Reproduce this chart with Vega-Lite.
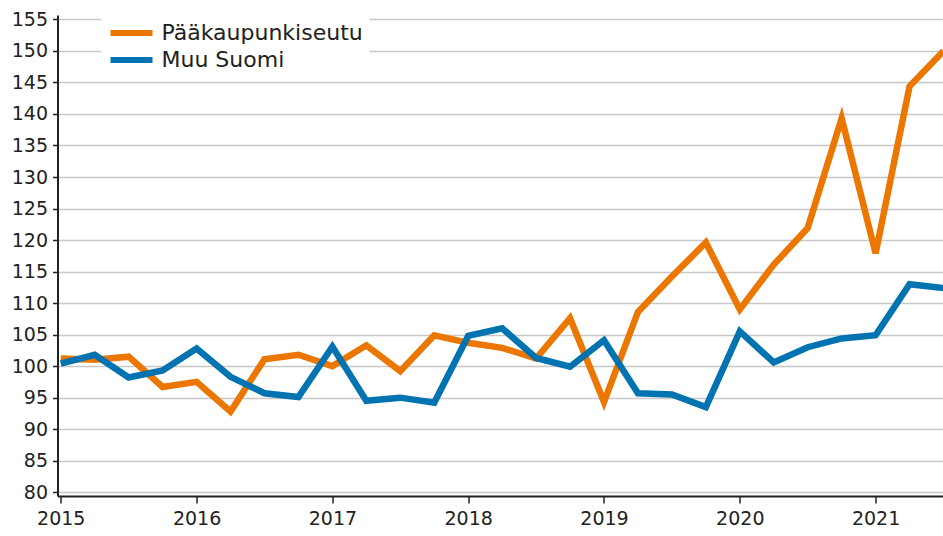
{
  "$schema": "https://vega.github.io/schema/vega-lite/v6.json",
  "autosize": {"type": "none"},
  "width": 886,
  "height": 481,
  "padding": {"left": 57.5, "top": 15, "right": 0, "bottom": 40},
  "background": "white",
  "config": {
    "font": "DejaVu Sans",
    "view": {"stroke": null},
    "axis": {"labelColor": "#222", "domainColor": "#222", "tickColor": "#222", "domainWidth": 2, "tickWidth": 1.5}
  },
  "data": {
    "values": [
      {"t": 2015.00, "series": "Pääkaupunkiseutu", "value": 101.2},
      {"t": 2015.25, "series": "Pääkaupunkiseutu", "value": 101.0},
      {"t": 2015.50, "series": "Pääkaupunkiseutu", "value": 101.5},
      {"t": 2015.75, "series": "Pääkaupunkiseutu", "value": 96.7},
      {"t": 2016.00, "series": "Pääkaupunkiseutu", "value": 97.5},
      {"t": 2016.25, "series": "Pääkaupunkiseutu", "value": 92.8},
      {"t": 2016.50, "series": "Pääkaupunkiseutu", "value": 101.1},
      {"t": 2016.75, "series": "Pääkaupunkiseutu", "value": 101.8},
      {"t": 2017.00, "series": "Pääkaupunkiseutu", "value": 100.0},
      {"t": 2017.25, "series": "Pääkaupunkiseutu", "value": 103.3},
      {"t": 2017.50, "series": "Pääkaupunkiseutu", "value": 99.2},
      {"t": 2017.75, "series": "Pääkaupunkiseutu", "value": 104.9},
      {"t": 2018.00, "series": "Pääkaupunkiseutu", "value": 103.7},
      {"t": 2018.25, "series": "Pääkaupunkiseutu", "value": 102.9},
      {"t": 2018.50, "series": "Pääkaupunkiseutu", "value": 101.2},
      {"t": 2018.75, "series": "Pääkaupunkiseutu", "value": 107.6},
      {"t": 2019.00, "series": "Pääkaupunkiseutu", "value": 94.3},
      {"t": 2019.25, "series": "Pääkaupunkiseutu", "value": 108.6},
      {"t": 2019.50, "series": "Pääkaupunkiseutu", "value": 114.2},
      {"t": 2019.75, "series": "Pääkaupunkiseutu", "value": 119.6},
      {"t": 2020.00, "series": "Pääkaupunkiseutu", "value": 109.0},
      {"t": 2020.25, "series": "Pääkaupunkiseutu", "value": 116.1},
      {"t": 2020.50, "series": "Pääkaupunkiseutu", "value": 121.9},
      {"t": 2020.75, "series": "Pääkaupunkiseutu", "value": 139.3},
      {"t": 2021.00, "series": "Pääkaupunkiseutu", "value": 117.9},
      {"t": 2021.25, "series": "Pääkaupunkiseutu", "value": 144.4},
      {"t": 2021.50, "series": "Pääkaupunkiseutu", "value": 150.0},
      {"t": 2015.00, "series": "Muu Suomi", "value": 100.4},
      {"t": 2015.25, "series": "Muu Suomi", "value": 101.8},
      {"t": 2015.50, "series": "Muu Suomi", "value": 98.2},
      {"t": 2015.75, "series": "Muu Suomi", "value": 99.3},
      {"t": 2016.00, "series": "Muu Suomi", "value": 102.8},
      {"t": 2016.25, "series": "Muu Suomi", "value": 98.3},
      {"t": 2016.50, "series": "Muu Suomi", "value": 95.7},
      {"t": 2016.75, "series": "Muu Suomi", "value": 95.1},
      {"t": 2017.00, "series": "Muu Suomi", "value": 103.1},
      {"t": 2017.25, "series": "Muu Suomi", "value": 94.5},
      {"t": 2017.50, "series": "Muu Suomi", "value": 95.0},
      {"t": 2017.75, "series": "Muu Suomi", "value": 94.2},
      {"t": 2018.00, "series": "Muu Suomi", "value": 104.8},
      {"t": 2018.25, "series": "Muu Suomi", "value": 106.0},
      {"t": 2018.50, "series": "Muu Suomi", "value": 101.3},
      {"t": 2018.75, "series": "Muu Suomi", "value": 99.9},
      {"t": 2019.00, "series": "Muu Suomi", "value": 104.1},
      {"t": 2019.25, "series": "Muu Suomi", "value": 95.7},
      {"t": 2019.50, "series": "Muu Suomi", "value": 95.5},
      {"t": 2019.75, "series": "Muu Suomi", "value": 93.5},
      {"t": 2020.00, "series": "Muu Suomi", "value": 105.5},
      {"t": 2020.25, "series": "Muu Suomi", "value": 100.6},
      {"t": 2020.50, "series": "Muu Suomi", "value": 103.0},
      {"t": 2020.75, "series": "Muu Suomi", "value": 104.4},
      {"t": 2021.00, "series": "Muu Suomi", "value": 104.9},
      {"t": 2021.25, "series": "Muu Suomi", "value": 113.0},
      {"t": 2021.50, "series": "Muu Suomi", "value": 112.4}
    ]
  },
  "mark": {"type": "line", "strokeWidth": 6.5, "strokeJoin": "miter", "clip": false},
  "encoding": {
    "x": {
      "field": "t", "type": "quantitative",
      "scale": {"domain": [2014.976, 2021.5], "nice": false, "zero": false},
      "axis": {
        "title": null, "grid": false, "format": "d",
        "values": [2015, 2015.25, 2015.5, 2015.75, 2016, 2016.25, 2016.5, 2016.75, 2017, 2017.25, 2017.5, 2017.75, 2018, 2018.25, 2018.5, 2018.75, 2019, 2019.25, 2019.5, 2019.75, 2020, 2020.25, 2020.5, 2020.75, 2021, 2021.25, 2021.5],
        "labelExpr": "datum.value % 1 == 0 ? datum.label : ''",
        "labelOverlap": false, "labelFlush": false,
        "labelFontSize": 19, "tickSize": 7, "labelPadding": 6
      }
    },
    "y": {
      "field": "value", "type": "quantitative",
      "scale": {"domain": [79.4, 155.7], "nice": false, "zero": false},
      "axis": {
        "title": null, "grid": true, "gridColor": "#c8c8c8", "gridWidth": 1.5,
        "values": [80, 85, 90, 95, 100, 105, 110, 115, 120, 125, 130, 135, 140, 145, 150, 155],
        "labelFontSize": 19, "tickSize": 5, "labelPadding": 5
      }
    },
    "color": {
      "field": "series", "type": "nominal",
      "scale": {"domain": ["Pääkaupunkiseutu", "Muu Suomi"], "range": ["#eb7600", "#0073b0"]},
      "legend": {
        "title": null, "orient": "none", "legendX": 44, "legendY": -1.5,
        "fillColor": "white", "padding": 6,
        "symbolType": "stroke", "symbolSize": 1764, "symbolStrokeWidth": 6,
        "labelFontSize": 22, "labelColor": "#222", "labelOffset": 6, "labelLimit": 400,
        "clipHeight": 27, "rowPadding": 0
      }
    },
    "order": {"field": "t", "type": "quantitative"}
  }
}
